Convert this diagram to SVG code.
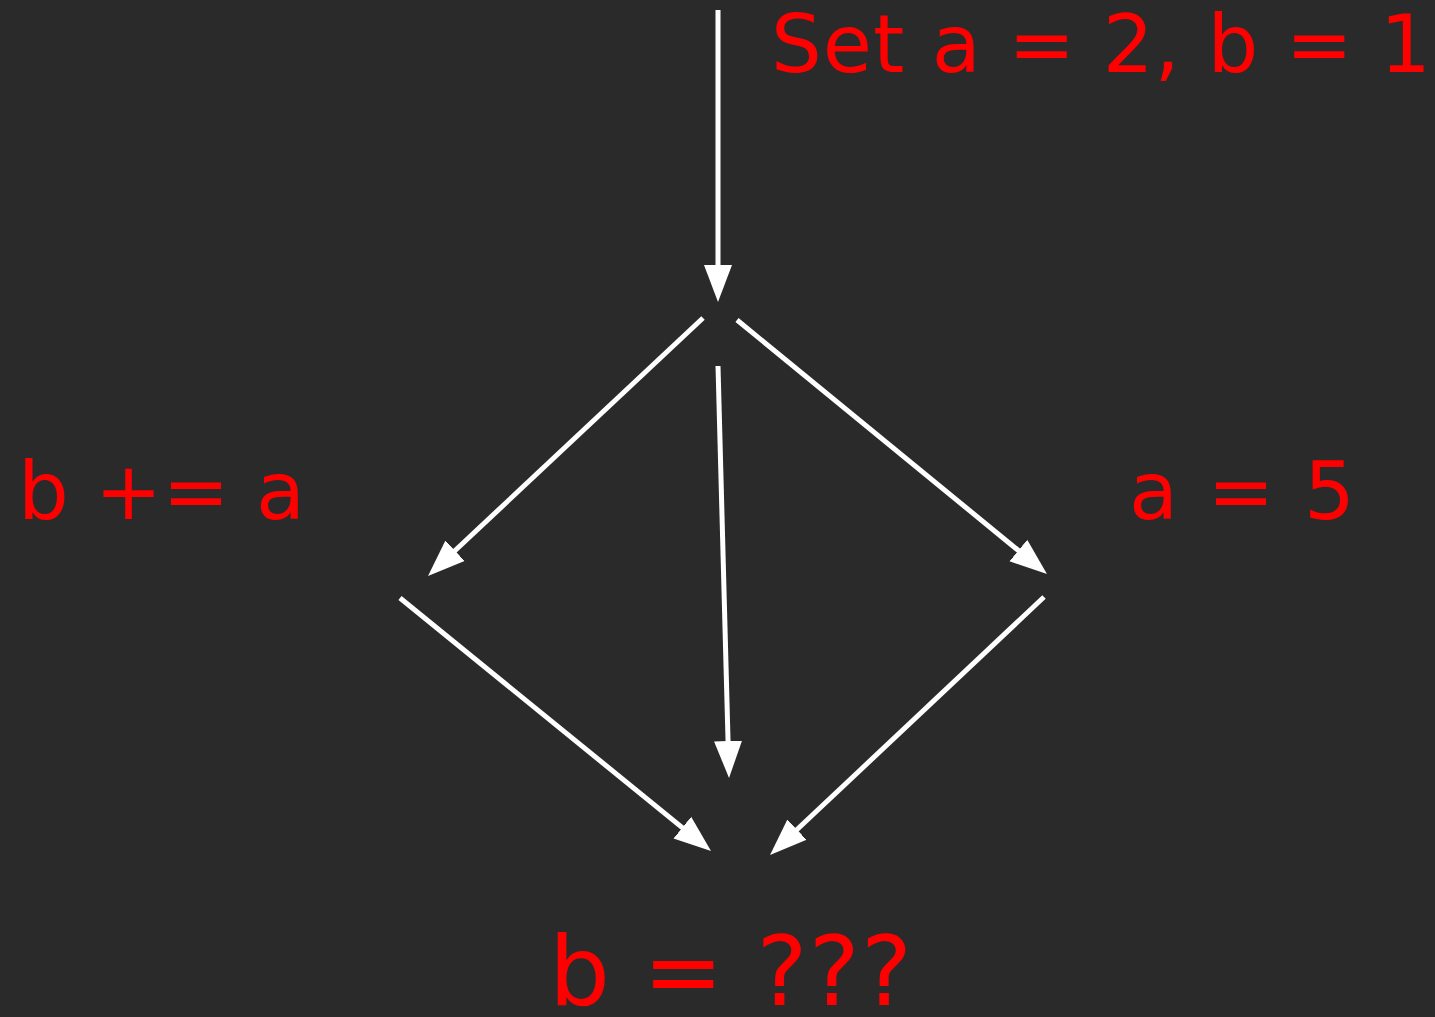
<svg xmlns="http://www.w3.org/2000/svg" width="1435" height="1017" viewBox="0 0 1435 1017">
<style>
.lbl{font-family:"DejaVu Sans","Verdana",sans-serif;fill:#ff0000;font-size:80px}
.big{font-size:96px}
.edge{stroke:#ffffff;stroke-width:5;fill:none;marker-end:url(#arr)}
</style>
<defs>
<marker id="arr" markerUnits="userSpaceOnUse" viewBox="0 -15 38 30" refX="17" refY="0" markerWidth="38" markerHeight="30" orient="auto">
<path d="M0,-14 L37,0 L0,14 z" fill="#ffffff"/>
</marker>
</defs>
<rect width="1435" height="1017" fill="#2a2a2a"/>
<g id="connectors">
<line class="edge" x1="718" y1="10" x2="718" y2="282"/>
<line class="edge" x1="703" y1="318" x2="442.6" y2="562.3"/>
<line class="edge" x1="737" y1="320" x2="1031.5" y2="561.3"/>
<line class="edge" x1="718" y1="366" x2="728.5" y2="758"/>
<line class="edge" x1="400" y1="598" x2="695.5" y2="838.4"/>
<line class="edge" x1="1044" y1="597" x2="784.6" y2="841.3"/>
</g>
<g id="node-start"><text class="lbl" x="771" y="72" textLength="660" lengthAdjust="spacing">Set a = 2, b = 1</text></g>
<g id="node-left"><text class="lbl" x="18" y="519" textLength="287" lengthAdjust="spacing">b += a</text></g>
<g id="node-right"><text class="lbl" x="1129" y="519" textLength="226" lengthAdjust="spacing">a = 5</text></g>
<g id="node-end"><text class="lbl big" x="549" y="1005" textLength="363" lengthAdjust="spacing">b = ???</text></g>
</svg>
